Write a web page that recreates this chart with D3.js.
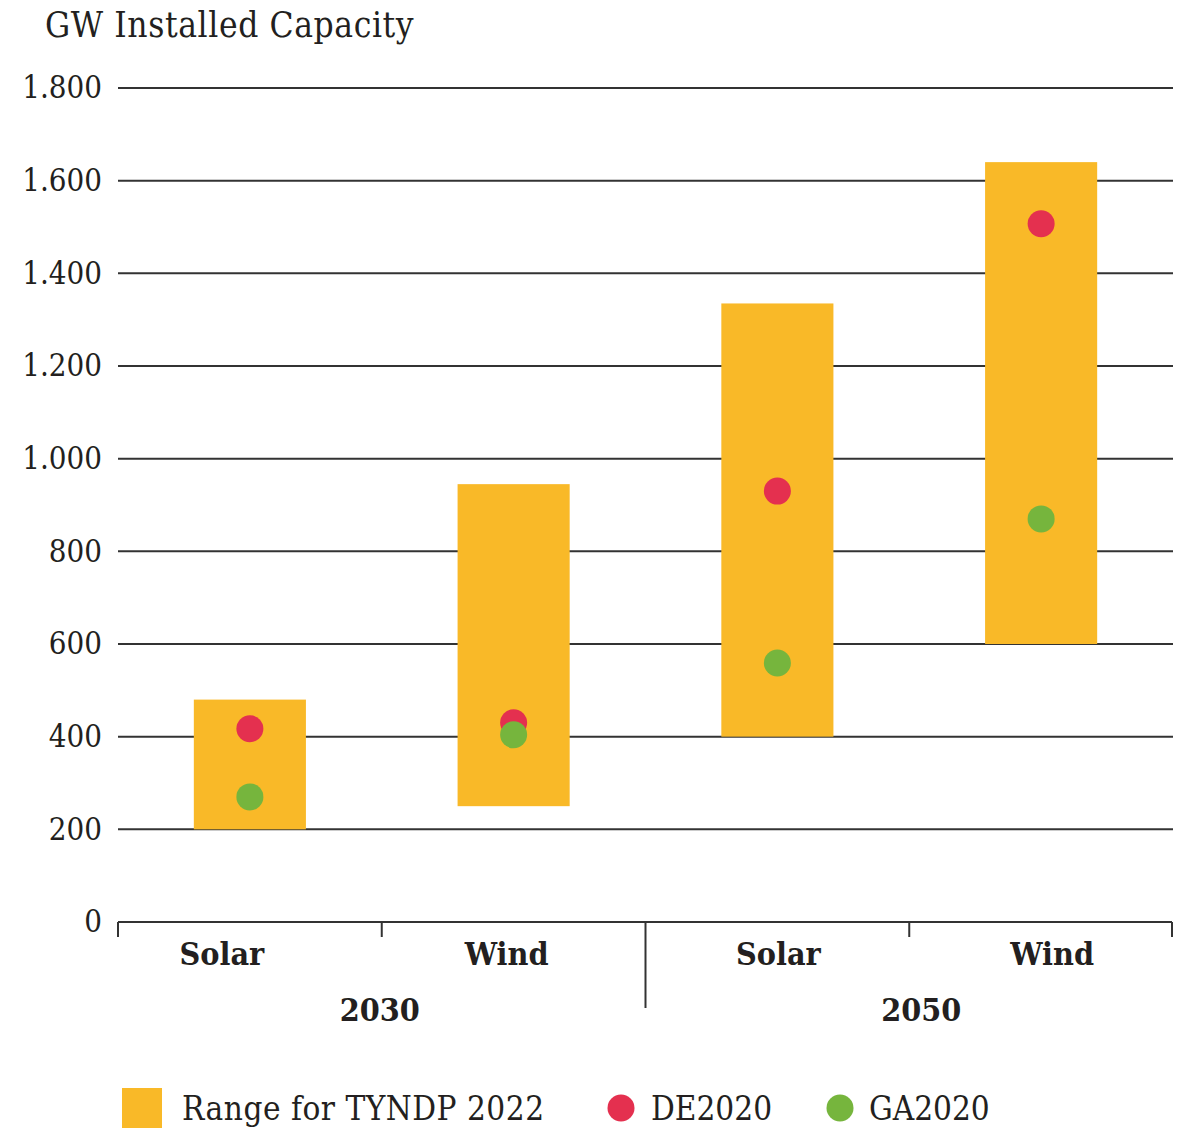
<!DOCTYPE html>
<html>
<head>
<meta charset="utf-8">
<script src="https://cdn.jsdelivr.net/npm/d3@7"></script>
<style>
  body { margin: 0; background: #fff; }
  text { font-family: "DejaVu Serif", serif; font-stretch: condensed; fill: #231f20; }
</style>
</head>
<body>
<svg id="chart" width="1184" height="1128"></svg>
<script>
// data
const categories = ["Solar", "Wind", "Solar", "Wind"];
const years = ["2030", "2050"];
const rangeLow = [200, 250, 400, 600];
const rangeHigh = [480, 945, 1335, 1640];
const de2020 = [417, 430, 930, 1507];
const ga2020 = [270, 404, 559, 870];
const yTicks = [0, 200, 400, 600, 800, 1000, 1200, 1400, 1600, 1800];
const legendLabels = ["Range for TYNDP 2022", "DE2020", "GA2020"];

const colors = { range: "#f9b928", de: "#e4304f", ga: "#76b53d", grid: "#333" };

const svg = d3.select("#chart");
const plotLeft = 118, plotRight = 1173, plotTop = 88, plotBottom = 922;

let x = d3.scaleBand()
    .domain(d3.range(categories.length))
    .range([plotLeft, plotRight])
    .paddingInner(0.575)
    .paddingOuter(0.2875);

let xTick = d3.scaleBand().domain(d3.range(categories.length)).range([plotLeft, plotRight]);

let y = d3.scaleLinear().domain([0, 1800]).range([plotBottom, plotTop]);

//gridlines + y labels
let yAxis = svg.append("g")
    .attr("transform", "translate(" + plotLeft + ",0)")
    .call(d3.axisLeft(y).tickValues(yTicks).tickSize(0).tickPadding(16)
        .tickFormat(d => d3.format(",")(d).replace(",", ".")));
yAxis.select(".domain").remove();
yAxis.selectAll("text").style("font-size", "31px").attr("fill", "#231f20");

svg.append("g")
    .selectAll("line")
    .data(yTicks.filter(d => d > 0))
    .enter()
    .append("line")
    .attr("x1", plotLeft)
    .attr("x2", plotRight)
    .attr("y1", d => y(d))
    .attr("y2", d => y(d))
    .attr("stroke", colors.grid)
    .attr("stroke-width", 2);

//range bars
svg.append("g")
    .selectAll("rect")
    .data(categories)
    .enter()
    .append("rect")
    .attr("x", (d, i) => x(i))
    .attr("width", x.bandwidth())
    .attr("y", (d, i) => y(rangeHigh[i]))
    .attr("height", (d, i) => y(rangeLow[i]) - y(rangeHigh[i]))
    .attr("fill", colors.range);

//dots
function drawDots(values, color)
{
    svg.append("g")
    .selectAll("circle")
    .data(values)
    .enter()
    .append("circle")
    .attr("cx", (d, i) => x(i) + x.bandwidth() / 2)
    .attr("cy", d => y(d))
    .attr("r", 13.5)
    .attr("fill", color);
}
drawDots(de2020, colors.de);
drawDots(ga2020, colors.ga);

//x axis
let xAxisG = svg.append("g");
xAxisG.append("line")
    .attr("x1", plotLeft).attr("x2", plotRight - 1)
    .attr("y1", plotBottom).attr("y2", plotBottom)
    .attr("stroke", colors.grid).attr("stroke-width", 2);

let tickPos = d3.range(categories.length + 1).map(i => i < categories.length ? xTick(i) : plotRight - 1);
xAxisG.selectAll(".tk")
    .data(tickPos)
    .enter()
    .append("line")
    .attr("x1", d => d).attr("x2", d => d)
    .attr("y1", plotBottom)
    .attr("y2", (d, i) => i == 2 ? 1008 : 937)
    .attr("stroke", colors.grid).attr("stroke-width", 2);

//labels in the original sit a little off the band centres
let catShift = [-28, -7, 1, 11];
let yearShift = [-2, 12];

xAxisG.selectAll(".cat")
    .data(categories)
    .enter()
    .append("text")
    .attr("x", (d, i) => xTick(i) + xTick.bandwidth() / 2 + catShift[i])
    .attr("y", 965)
    .attr("text-anchor", "middle")
    .style("font-size", "32px")
    .style("font-weight", "bold")
    .text(d => d);

xAxisG.selectAll(".yr")
    .data(years)
    .enter()
    .append("text")
    .attr("x", (d, i) => xTick(i * 2 + 1) + yearShift[i])
    .attr("y", 1021)
    .attr("text-anchor", "middle")
    .style("font-size", "32px")
    .style("font-weight", "bold")
    .text(d => d);

//title
svg.append("text")
    .attr("x", 45)
    .attr("y", 37)
    .style("font-size", "35px")
    .style("letter-spacing", "0.6px")
    .text("GW Installed Capacity");

//legend
let legend = svg.append("g");
legend.append("rect")
    .attr("x", 122).attr("y", 1088)
    .attr("width", 40).attr("height", 40)
    .attr("fill", colors.range);
legend.append("circle").attr("cx", 621).attr("cy", 1108).attr("r", 13.5).attr("fill", colors.de);
legend.append("circle").attr("cx", 840).attr("cy", 1108).attr("r", 13.5).attr("fill", colors.ga);
let legendX = [182, 651, 869];
legend.selectAll(".lt")
    .data(legendLabels)
    .enter()
    .append("text")
    .attr("x", (d, i) => legendX[i])
    .attr("y", 1120)
    .style("font-size", "33px")
    .style("letter-spacing", (d, i) => i == 0 ? "0.5px" : "0px")
    .text(d => d);
</script>
</body>
</html>
